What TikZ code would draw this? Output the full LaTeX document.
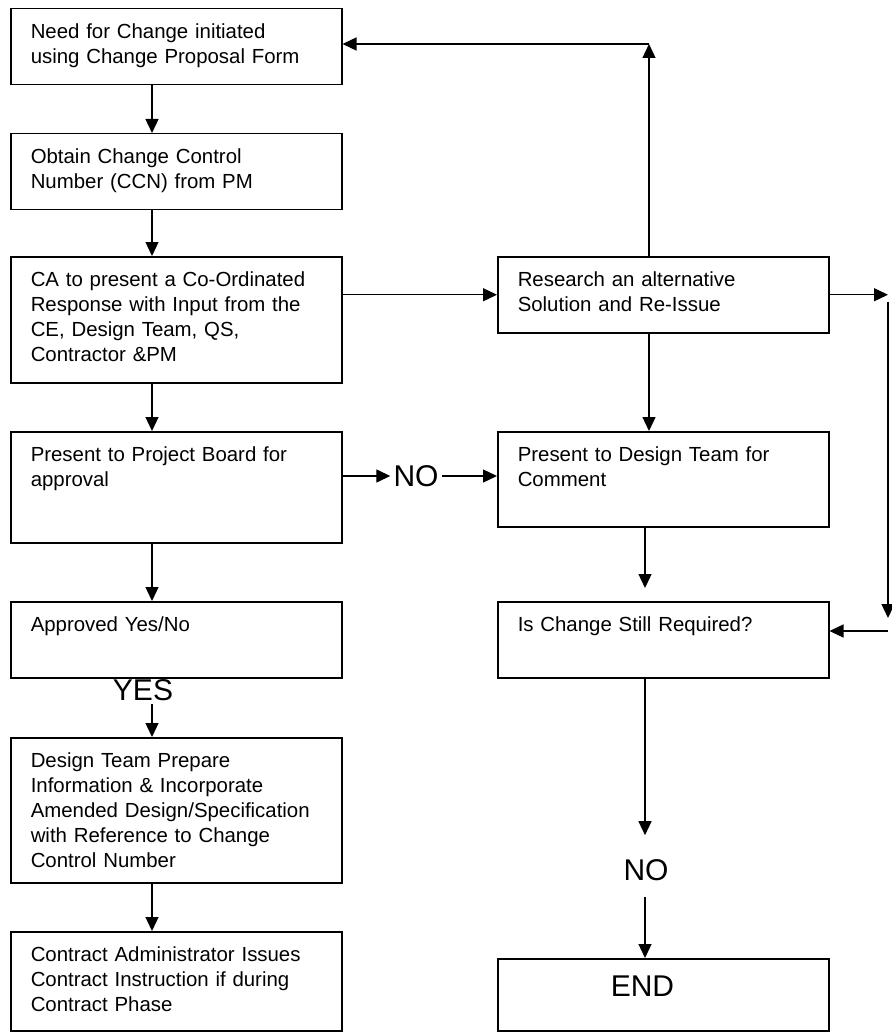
\documentclass[tikz,border=0pt]{standalone}
\usepackage{fontspec}
\setmainfont{Liberation Sans}
\usepackage{tikz}
\usetikzlibrary{arrows.meta, positioning, calc}
\tikzset{%
    stepbox/.style={%
        draw, line width=1.5pt, anchor=north west, align=left,
        text width=291pt, inner xsep=20pt, inner ysep=16pt,
        text height=14pt, font=\fontsize{20.4}{25}\selectfont,
    },
    bigLabel/.style={%
        font=\fontsize{30}{32}\selectfont, inner sep=3pt,
    },
    flow/.style={%
        -{Triangle[length=14pt, width=13pt]}, line width=1.3pt,
    },
}

\begin{document}
\begin{tikzpicture}[x=1pt, y=-1pt]
    \useasboundingbox (0,0) rectangle (891,1032);

    \coordinate (lx) at (152,0);
    \coordinate (sx) at (645,0);
    \coordinate (turn) at (649,44);
    \coordinate (fartop) at (888,302);
    \coordinate (farend) at (888,618);
    \coordinate (farmid) at (888,631);

    % left column
    \node[stepbox, text depth=30pt] (need) at (10,8) {Need for Change initiated\\using Change Proposal Form};
    \node[stepbox, text depth=30pt] (ccn) at (10,133) {Obtain Change Control\\Number (CCN) from PM};
    \node[stepbox, text depth=80pt] (coord) at (10,256) {CA to present a Co-Ordinated\\Response with Input from the\\CE, Design Team, QS,\\Contractor \&PM};
    \node[stepbox, text depth=65pt] (board) at (10,431) {Present to Project Board for\\approval};
    \node[stepbox, text depth=30pt] (approved) at (10,601) {Approved Yes/No};
    \node[stepbox, text depth=99pt] (prepare) at (10,737) {Design Team Prepare\\Information \& Incorporate\\Amended Design/Specification\\with Reference to Change\\Control Number};
    \node[stepbox, text depth=53pt] (issue) at (10,931) {Contract Administrator Issues\\Contract Instruction if during\\Contract Phase};

    % right column
    \node[stepbox, text depth=30pt] (research) at (497,256) {Research an alternative\\Solution and Re-Issue};
    \node[stepbox, text depth=49pt] (comment) at (497,431) {Present to Design Team for\\Comment};
    \node[stepbox, text depth=30pt] (still) at (497,601) {Is Change Still Required?};
    \node[stepbox, font=\fontsize{30}{32}\selectfont, text width=105pt, inner xsep=113pt,
          text height=22pt, text depth=18pt] (end) at (497,958) {END};

    \node[bigLabel] (yes) at (143,690) {YES};
    \node[bigLabel] (no) at (416,476) {NO};
    \node[bigLabel] (nob) at (646,870) {NO};

    \draw[flow] (need.south -| lx) -- (ccn.north -| lx);
    \draw[flow] (ccn.south -| lx) -- (coord.north -| lx);
    \draw[flow] (coord.south -| lx) -- (board.north -| lx);
    \draw[flow] (board.south -| lx) -- (approved.north -| lx);
    \draw[flow] (yes.south -| lx) -- (prepare.north -| lx);
    \draw[flow] (prepare.south -| lx) -- (issue.north -| lx);

    \draw[flow] (coord.east |- research.west) -- (research.west);
    \draw[flow] (research.north -| turn) -- (turn);
    \draw[flow] (turn) -- (need.east |- turn);
    \draw[flow] (research.south -| turn) -- (comment.north -| turn);
    \draw[flow] (board.east |- no) -- (no.west);
    \draw[flow] (no.east) -- (comment.west |- no);
    \draw[flow, shorten >=13pt] (comment.south -| sx) -- (still.north -| sx);
    \draw[flow, shorten >=21pt] (still.south -| sx) -- (nob.north -| sx);
    \draw[flow, shorten <=13pt] (nob.south -| sx) -- (end.north -| sx);

    \draw[flow] (research.east) -- (research.east -| fartop);
    \draw[flow] (fartop) -- (farend);
    \draw[flow] (farmid) -- (still.east |- farmid);
\end{tikzpicture}
\end{document}
